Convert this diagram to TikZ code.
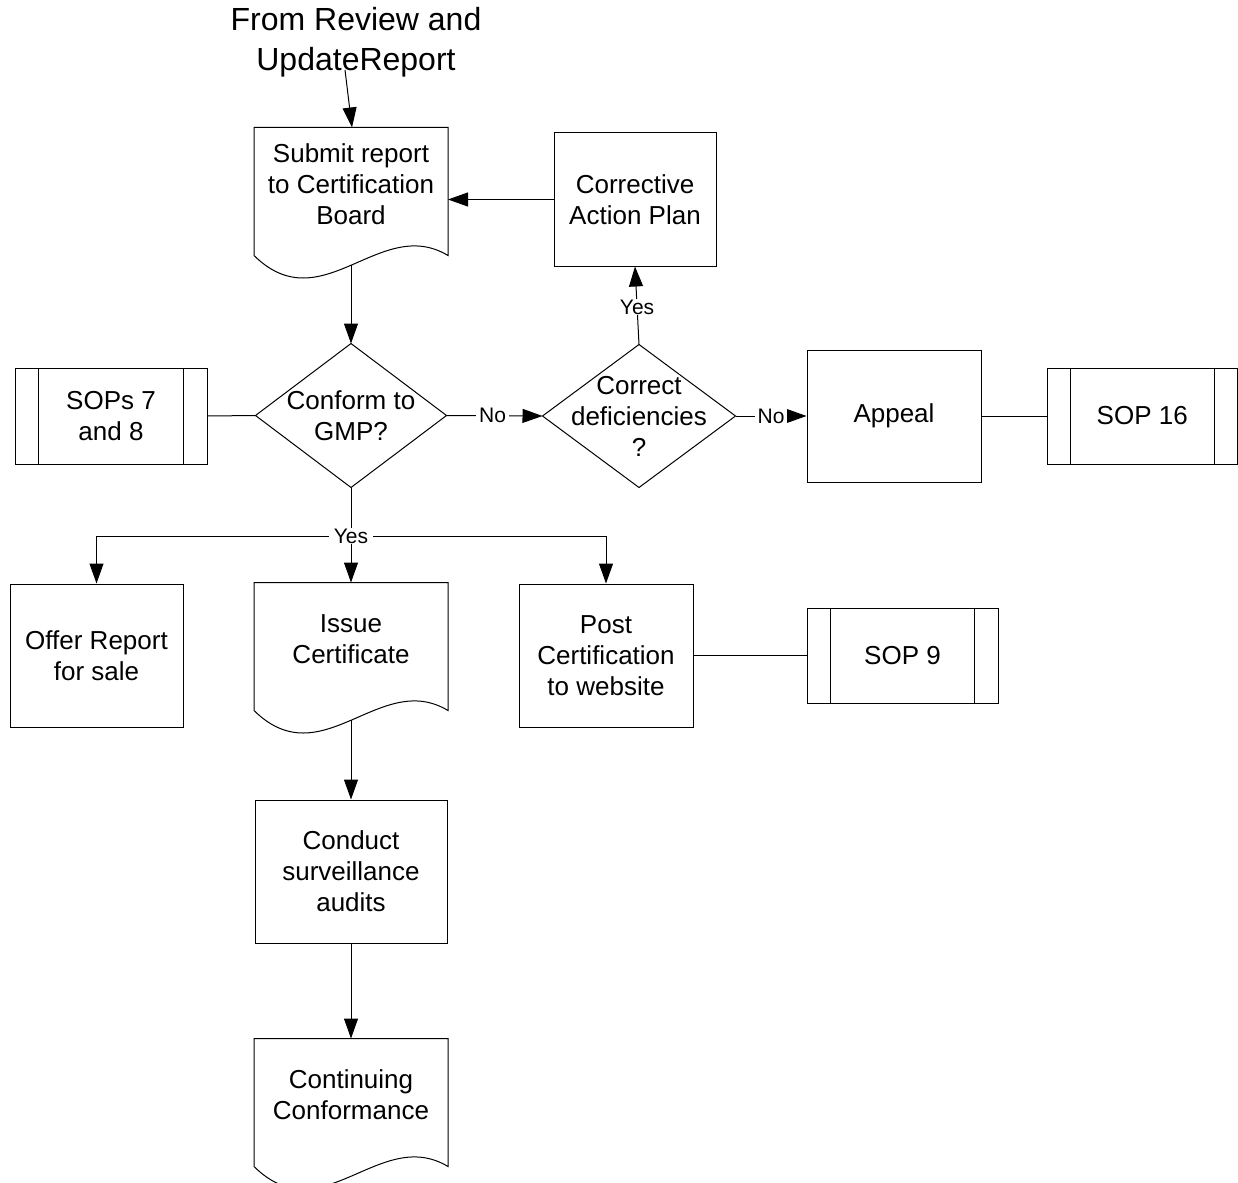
\documentclass[tikz,border=0pt]{standalone}
\usepackage{fontspec}
\setmainfont{Liberation Sans}
\usetikzlibrary{arrows.meta,calc}
\newcommand\docpath[1]{%
  \draw ($(#1.south west)+(0,15)$) -- (#1.north west) -- (#1.north east) -- ($(#1.south east)+(0,15)$)
    .. controls ($(#1.south)+(29,-26)$) and ($(#1.south)+(-29,82)$) .. ($(#1.south west)+(0,15)$);
  \coordinate (#1-w) at ($(#1.south)+(0,24.75)$);
}
\newcommand\subbars[1]{%
  \draw ($(#1.north west)+(24,0)$) -- ($(#1.south west)+(24,0)$);
  \draw ($(#1.north east)+(-24,0)$) -- ($(#1.south east)+(-24,0)$);
}
\newcommand\diamondpath[1]{%
  \draw (#1.north) -- (#1.east) -- (#1.south) -- (#1.west) -- cycle;
}
\begin{document}
\begin{tikzpicture}[x=1pt,y=-1pt, line width=1pt,
  txt/.style={font=\fontsize{26}{31}\selectfont, align=center, inner sep=0pt},
  box/.style={txt, draw, rectangle},
  docnode/.style={txt, minimum width=193, minimum height=112},
  decision/.style={txt},
  lbl/.style={font=\fontsize{21}{25}\selectfont, fill=white, inner xsep=3pt, inner ysep=1pt},
  arr/.style={-{Triangle[length=20pt,width=14pt]}}
]
\useasboundingbox (0,0) rectangle (1238,1182);

% nodes
\node[txt, font=\fontsize{32}{40}\selectfont] (title) at (356,42) {From Review and\\UpdateReport};
\node[docnode] (submit) at (351,184) {Submit report\\to Certification\\Board};
\node[box, minimum width=162, minimum height=133] (cap) at (635,199.5) {Corrective\\Action Plan};
\node[decision, minimum width=190, minimum height=143] (conf) at (351,415.5) {Conform to\\GMP?};
\node[decision, minimum width=192, minimum height=142] (corr) at (639,416) {Correct\\deficiencies\\?};
\node[box, minimum width=192, minimum height=96] (sop78) at (111,416) {SOPs 7\\and 8};
\node[box, minimum width=174, minimum height=132] (appeal) at (894,416) {Appeal};
\node[box, minimum width=190.5, minimum height=96] (sop16) at (1142.25,416) {SOP 16};
\node[box, minimum width=173, minimum height=143] (offer) at (96.5,655.5) {Offer Report\\for sale};
\node[docnode] (issue) at (351,639) {Issue\\Certificate};
\node[box, minimum width=174, minimum height=143] (post) at (606,655.5) {Post\\Certification\\to website};
\node[box, minimum width=191, minimum height=95] (sop9) at (902.5,655.5) {SOP 9};
\node[box, minimum width=192, minimum height=143] (conduct) at (351,871.5) {Conduct\\surveillance\\audits};
\node[docnode] (cont) at (351,1095) {Continuing\\Conformance};

% shape outlines
\docpath{submit}
\docpath{issue}
\docpath{cont}
\diamondpath{conf}
\diamondpath{corr}
\subbars{sop78}
\subbars{sop16}
\subbars{sop9}

% connectors
\coordinate (tt) at (345,70);
\draw[arr] (tt) -- ($(submit.north)+(1,0)$);
\draw[arr] (submit-w) -- (conf.north);
\draw[arr] (cap.west) -- (cap.west -| submit.east);
\draw[arr] (corr.north) -- node[lbl, pos=0.48]{Yes} (cap.south);
\draw (sop78.east) -- (conf.west);
\draw[arr] (conf.east) -- node[lbl, pos=0.48]{No} (corr.west);
\draw[arr] (corr.east) -- node[lbl]{No} (appeal.west);
\draw (appeal.east) -- (sop16.west);
\coordinate (j) at (351,536);
\draw (conf.south) -- (j);
\draw[arr] (j) -| (offer.north);
\draw[arr] (j) -| (post.north);
\draw[arr] (j) -- (issue.north);
\node[lbl, inner xsep=5pt] (yes) at (j) {Yes};
\draw (post.east) -- (sop9.west);
\draw[arr] (issue-w) -- (conduct.north);
\draw[arr] (conduct.south) -- (cont.north);
\end{tikzpicture}
\end{document}
